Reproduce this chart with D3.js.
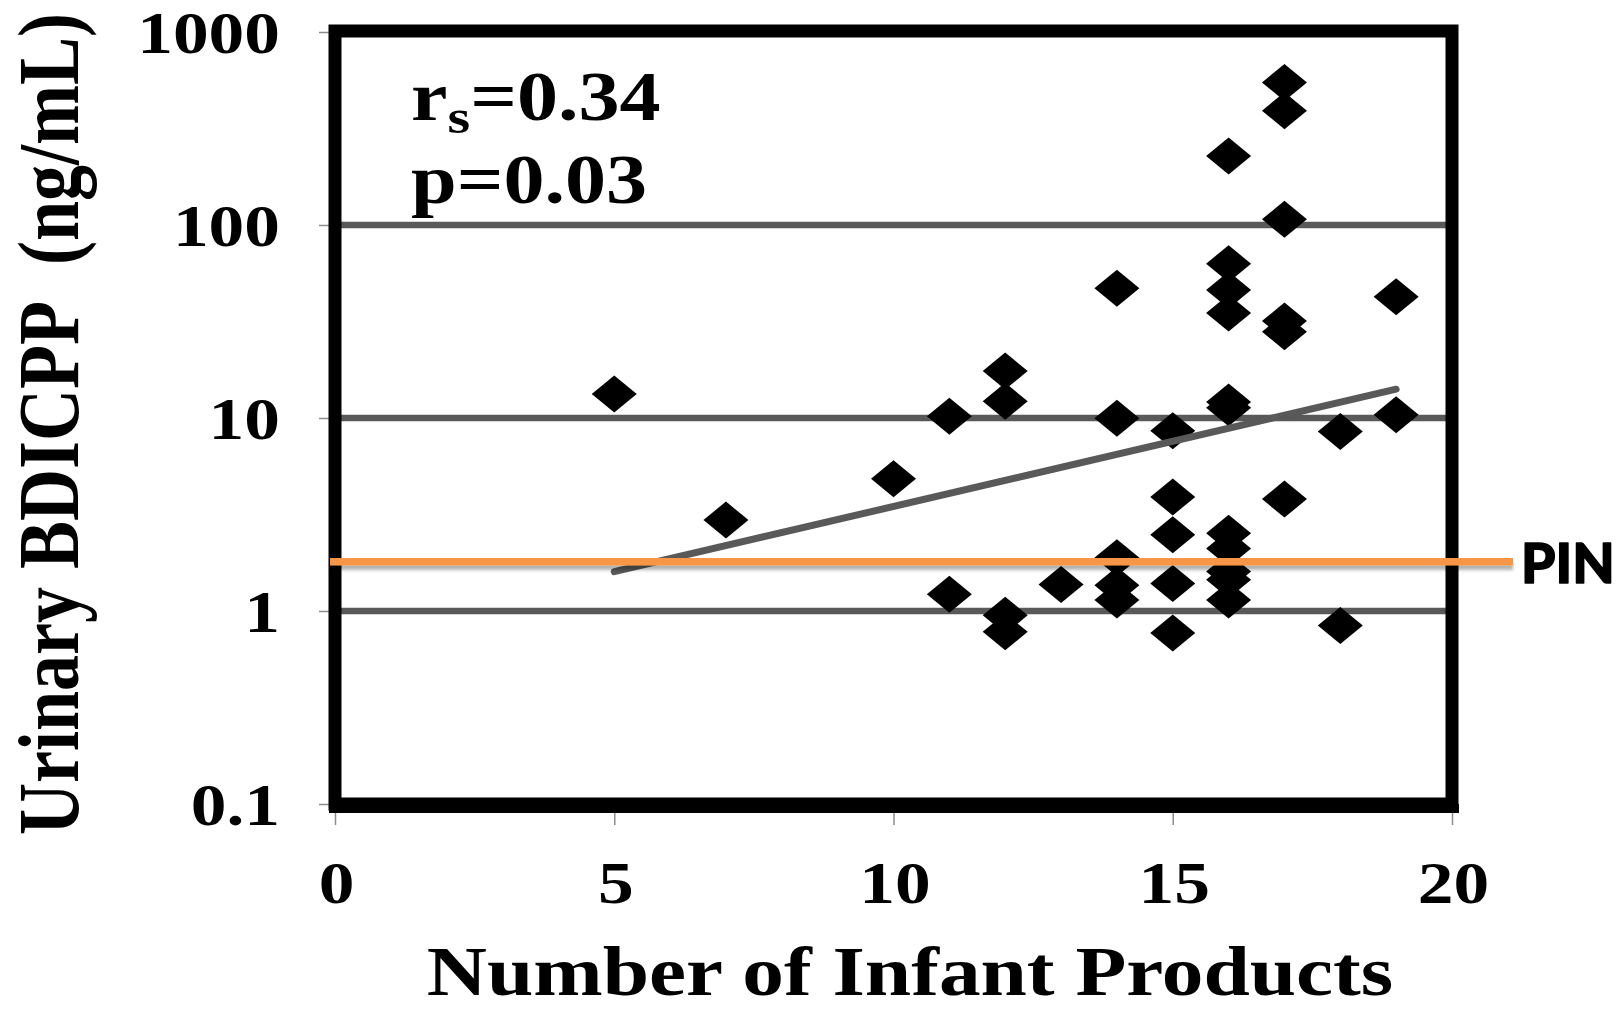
<!DOCTYPE html>
<html>
<head>
<meta charset="utf-8">
<script src="https://cdn.jsdelivr.net/npm/d3@7"></script>
<style>
  html, body { margin: 0; padding: 0; background: #fff; }
  svg { display: block; }
</style>
</head>
<body>
<svg id="chart" width="1619" height="1010"></svg>
<script>
// Number of infant products used by each infant, and the matching urinary BDICPP level (ng/mL)
const productCounts = [5, 7, 10, 11, 11, 12, 12, 12, 12, 13,
  14, 14, 14, 14, 14, 15, 15, 15, 15, 15,
  16, 16, 16, 16, 16, 16, 16, 16, 16, 16, 16,
  17, 17, 17, 17, 17, 17, 18, 18, 19, 19];
const bdicppLevels = [13.3, 2.96, 4.85, 10.2, 1.22, 17.5, 12.2, 0.95, 0.78, 1.37,
  47, 9.96, 1.89, 1.36, 1.14, 8.6, 3.9, 2.48, 1.39, 0.77,
  228, 63, 46, 35, 12.1, 11.3, 2.53, 2.11, 1.6, 1.45, 1.14,
  548, 391, 107, 31.8, 28, 3.8, 8.5, 0.84, 42.5, 10.4];

// Fitted trend (log scale) end points
const trendCounts = [5, 19];
const trendLevels = [1.6, 14.1];

// Reference level marked "PIN"
const pinLevel = 1.8;
const pinLabel = "PIN";

// Axis ticks and labels
const xTickValues = [0, 5, 10, 15, 20];
const xTickLabels = ["0", "5", "10", "15", "20"];
const yTickValues = [0.1, 1, 10, 100, 1000];
const yTickLabels = ["0.1", "1", "10", "100", "1000"];
const gridLevels = [1, 10, 100];

const statLines = [
  { main: "r", sub: "s", rest: "=0.34" },
  { main: "p=0.03", sub: "", rest: "" }
];
const xTitle = "Number of Infant Products";
const yTitle = "Urinary BDICPP\u00A0 (ng/mL)";

// ---- layout ----
const W = 1619, H = 1010;
const plot = { left: 335, right: 1452, top: 32, bottom: 804 };
const serif = "'Liberation Serif', 'Times New Roman', serif";
const SX = 1.19;           // horizontal stretch of the serif lettering
const darkGray = "#595959";

const svg = d3.select("#chart");

const x = d3.scaleLinear().domain([0, 20]).range([plot.left, plot.right]);
const y = d3.scaleLog().domain([0.1, 1000]).range([plot.bottom, plot.top]);

const defs = svg.append("defs");
const shadow = defs.append("filter").attr("id", "lineShadow")
  .attr("filterUnits", "userSpaceOnUse")
  .attr("x", 0).attr("y", 0).attr("width", W).attr("height", H);
shadow.append("feDropShadow").attr("dx", 0).attr("dy", 4.5).attr("stdDeviation", 1.6)
  .attr("flood-color", "#000").attr("flood-opacity", 0.3);

// horizontal gridlines
svg.append("g").selectAll("line").data(gridLevels).join("line")
  .attr("x1", plot.left).attr("x2", plot.right)
  .attr("y1", d => y(d)).attr("y2", d => y(d))
  .attr("stroke", darkGray).attr("stroke-width", 6.5);

// y axis (ticks only, labels restyled below)
const yAxis = svg.append("g")
  .attr("transform", `translate(${plot.left - 6},0)`)
  .call(d3.axisLeft(y).tickValues(yTickValues).tickSize(10).tickFormat((d, i) => yTickLabels[i]));
yAxis.select(".domain").remove();
yAxis.selectAll(".tick line").attr("stroke", "#8c8c8c").attr("stroke-width", 1.5);
yAxis.selectAll(".tick text")
  .attr("x", null).attr("dy", null)
  .attr("transform", "translate(-49,20) scale(" + SX + ",1)")
  .attr("text-anchor", "end")
  .attr("font-family", serif).attr("font-weight", "bold").attr("font-size", 60)
  .attr("fill", "#000");

// x axis
const xAxis = svg.append("g")
  .attr("transform", `translate(0,${plot.bottom + 4})`)
  .call(d3.axisBottom(x).tickValues(xTickValues).tickSize(17).tickFormat((d, i) => xTickLabels[i]));
xAxis.select(".domain").remove();
xAxis.selectAll(".tick line").attr("stroke", "#8c8c8c").attr("stroke-width", 1.5);
xAxis.selectAll(".tick text")
  .attr("y", null).attr("dy", null)
  .attr("transform", "translate(1,95) scale(" + SX + ",1)")
  .attr("text-anchor", "middle")
  .attr("font-family", serif).attr("font-weight", "bold").attr("font-size", 60)
  .attr("fill", "#000");

// data points (diamonds)
const diamond = "M0,-18.5L22.5,0L0,18.5L-22.5,0Z";
svg.append("g").selectAll("path").data(productCounts.map((c, i) => [c, bdicppLevels[i]])).join("path")
  .attr("d", diamond)
  .attr("transform", d => `translate(${x(d[0])},${y(d[1])})`)
  .attr("fill", "#000");

// trend line
const trend = d3.line().x(d => x(d[0])).y(d => y(d[1]));
svg.append("path")
  .datum(trendCounts.map((c, i) => [c, trendLevels[i]]))
  .attr("d", trend)
  .attr("fill", "none").attr("stroke", darkGray).attr("stroke-width", 7)
  .attr("stroke-linecap", "round");

// plot frame and bottom axis line
svg.append("rect")
  .attr("x", plot.left).attr("y", plot.top - 1)
  .attr("width", plot.right - plot.left).attr("height", plot.bottom - plot.top + 1)
  .attr("fill", "none").attr("stroke", "#000").attr("stroke-width", 13);
svg.append("line")
  .attr("x1", plot.left - 6).attr("x2", plot.right + 7)
  .attr("y1", plot.bottom + 4.5).attr("y2", plot.bottom + 4.5)
  .attr("stroke", "#000").attr("stroke-width", 9);

// PIN reference line
svg.append("line")
  .attr("x1", plot.left - 5).attr("x2", 1513)
  .attr("y1", y(pinLevel)).attr("y2", y(pinLevel))
  .attr("stroke", "#F79646").attr("stroke-width", 7.5)
  .attr("filter", "url(#lineShadow)");
svg.append("text")
  .attr("x", 1521).attr("y", y(pinLevel) + 21)
  .attr("font-family", "Lato, 'Open Sans', sans-serif").attr("font-weight", 900)
  .attr("font-size", 55).attr("fill", "#000")
  .attr("stroke", "#000").attr("stroke-width", 1.4).attr("stroke-linejoin", "round")
  .text(pinLabel);

// statistics text
const statBaselines = [120, 203];
statLines.forEach((s, i) => {
  const t = svg.append("text")
    .attr("transform", `translate(411,${statBaselines[i]}) scale(${SX},1)`)
    .attr("font-family", serif).attr("font-weight", "bold").attr("font-size", 69)
    .attr("fill", "#000");
  t.append("tspan").text(s.main);
  if (s.sub) {
    t.append("tspan").attr("font-size", 49).attr("dy", 13).text(s.sub);
    t.append("tspan").attr("dy", -13).text(s.rest);
  }
});

// axis titles
svg.append("text")
  .attr("transform", `translate(910,995) scale(${SX},1)`)
  .attr("text-anchor", "middle")
  .attr("font-family", serif).attr("font-weight", "bold").attr("font-size", 70)
  .attr("fill", "#000")
  .text(xTitle);

svg.append("text")
  .attr("transform", `translate(78,424) scale(${SX},1) rotate(-90)`)
  .attr("text-anchor", "middle")
  .style("white-space", "pre")
  .attr("font-family", serif).attr("font-weight", "bold").attr("font-size", 72)
  .attr("fill", "#000")
  .text(yTitle);
</script>
</body>
</html>
